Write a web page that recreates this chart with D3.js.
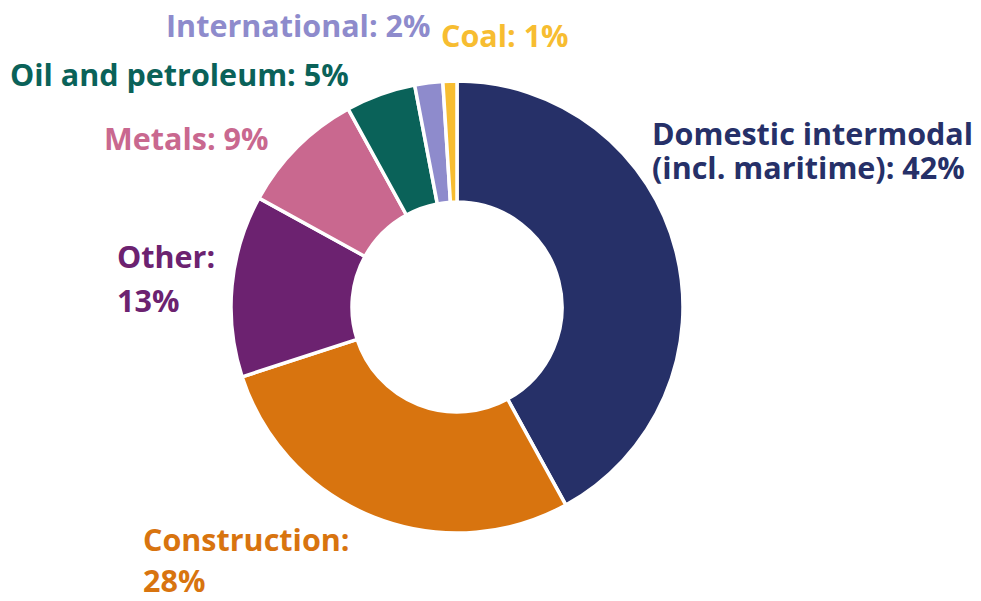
<!DOCTYPE html>
<html>
<head>
<meta charset="utf-8">
<script src="https://cdn.jsdelivr.net/npm/d3@7"></script>
<style>
  html, body { margin: 0; padding: 0; background: #fff; }
  svg { display: block; }
</style>
</head>
<body>
<svg id="chart" width="981" height="601"></svg>
<script>
// data (clockwise from 12 o'clock)
const categories = ['Domestic intermodal', 'Construction', 'Other', 'Metals', 'Oil and petroleum', 'International', 'Coal'];
const shares = [42, 28, 13, 9, 5, 2, 1];
const labelLines = [
  ['Domestic intermodal', '(incl. maritime): 42%'],
  ['Construction:', '28%'],
  ['Other:', '13%'],
  ['Metals: 9%'],
  ['Oil and petroleum: 5%'],
  ['International: 2%'],
  ['Coal: 1%'],
];

// layout
const colors = ['#263068', '#d8740f', '#6c2270', '#c9688f', '#0a6259', '#8e8bcc', '#f7bd31'];
const labelPos = [
  { x: 652, y: 145, lh: 34 },
  { x: 143, y: 551, lh: 41 },
  { x: 117, y: 268, lh: 44 },
  { x: 104, y: 150, lh: 0 },
  { x: 10, y: 86, lh: 0 },
  { x: 166, y: 37, lh: 0 },
  { x: 441, y: 47, lh: 0 },
];
const cx = 457;
const cy = 307;
const outerR = 226;
const innerR = 105;

const svg = d3.select('#chart');

const rows = categories.map((c, i) => ({ name: c, value: shares[i], color: colors[i] }));

const pie = d3.pie()
  .sort(null)
  .value(d => d.value);

const arc = d3.arc()
  .innerRadius(innerR)
  .outerRadius(outerR);

const donut = svg
  .append('g')
    .attr('class', 'donut')
    .attr('transform', `translate(${cx}, ${cy})`);

donut
  .selectAll('path')
  .data(pie(rows))
  .join('path')
    .attr('d', arc)
    .attr('fill', d => d.data.color)
    .attr('stroke', '#fff')
    .attr('stroke-width', 3.5)
    .attr('stroke-linejoin', 'miter');

const labels = svg
  .append('g')
    .attr('class', 'labels')
    .attr('font-family', '"Open Sans", Lato, sans-serif')
    .attr('font-weight', 'bold')
    .attr('font-size', 30.5);

rows.forEach((r, i) => {
  const p = labelPos[i];
  const t = labels
    .append('text')
      .attr('fill', r.color)
      .attr('x', p.x)
      .attr('y', p.y);
  labelLines[i].forEach((line, j) => {
    t.append('tspan')
      .attr('x', p.x)
      .attr('y', p.y + j * p.lh)
      .text(line);
  });
});
</script>
</body>
</html>
